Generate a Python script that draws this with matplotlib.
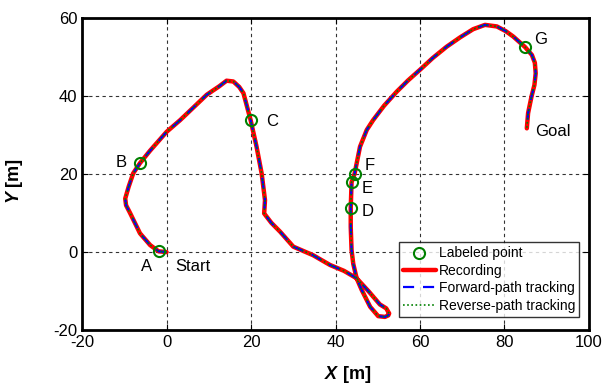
import numpy as np
import matplotlib.pyplot as plt

plt.rcParams['font.family'] = ['Liberation Sans', 'DejaVu Sans']
plt.rcParams['axes.unicode_minus'] = False

path_x = [0.0, -1.9, -3.9, -6.3, -8.6, -9.6, -9.8, -9.0, -7.9, -6.3, -3.9, 0.0, 3.2, 6.5, 9.5, 12.5,
          14.2, 15.8, 17.2, 18.2, 19.9, 21.3, 22.5, 23.3, 23.1, 24.8, 26.9, 30.0, 34.7, 38.7, 42.0,
          45.0, 47.8, 50.5, 52.0, 52.7, 52.5, 51.7, 50.1, 48.2, 46.2, 45.0, 44.2, 43.8, 43.6, 43.6,
          43.8, 44.5, 45.8, 47.4, 48.9, 51.5, 54.5, 57.2, 60.0, 63.0, 66.3, 69.5, 72.6, 75.4, 78.2,
          80.3, 82.1, 84.9, 86.5, 87.2, 87.4, 87.1, 86.4, 85.6, 85.3]
path_y = [0.0, 0.2, 1.8, 4.8, 9.9, 12.0, 13.7, 16.7, 20.2, 22.8, 26.0, 30.8, 33.8, 37.2, 40.3, 42.5,
          43.9, 43.7, 42.3, 40.7, 33.8, 27.0, 20.2, 13.3, 9.9, 7.5, 5.2, 1.4, -0.8, -3.3, -4.8,
          -6.7, -10.0, -13.4, -14.4, -15.7, -16.2, -16.6, -16.4, -14.0, -9.7, -6.7, -3.0, 0.5, 6.5,
          11.2, 17.9, 20.0, 27.0, 31.3, 33.8, 37.5, 41.1, 44.0, 46.7, 49.7, 52.6, 55.0, 57.1, 58.2,
          57.8, 56.6, 55.2, 52.5, 50.5, 48.5, 45.8, 42.8, 39.8, 35.6, 31.7]

# labeled points
pt_names = ['A', 'B', 'C', 'D', 'E', 'F', 'G']
pt_x = [-1.9, -6.3, 19.9, 43.6, 43.8, 44.5, 84.9]
pt_y = [0.2, 22.8, 33.8, 11.2, 17.9, 20.0, 52.5]
label_pos = {'A': (-4.8, -3.8), 'B': (-10.8, 23.0), 'C': (25.0, 33.5), 'D': (47.6, 10.3),
             'E': (47.4, 16.4), 'F': (48.2, 22.3), 'G': (88.6, 54.4)}

fig = plt.figure(figsize=(6.04, 3.88), dpi=100)
ax = fig.add_axes([0.136, 0.149, 0.839, 0.805])

ax.plot(path_x, path_y, color='red', lw=3.2, label='Recording', zorder=3,
        solid_joinstyle='round', solid_capstyle='round')
ax.plot(path_x, path_y, color='blue', lw=1.6, ls=(0, (5, 4)), label='Forward-path tracking',
        zorder=4, dash_joinstyle='round')
ax.plot(path_x, path_y, color='green', lw=1.2, ls=(0, (1, 1.5)), label='Reverse-path tracking',
        zorder=5, dash_joinstyle='round')
ax.plot(pt_x, pt_y, 'o', mfc='none', mec='green', mew=1.5, ms=8, ls='none',
        label='Labeled point', zorder=6)

for n in pt_names:
    ax.text(*label_pos[n], n, fontsize=12, ha='center', va='center')
ax.text(2.0, -3.8, 'Start', fontsize=12, ha='left', va='center')
ax.text(91.5, 30.8, 'Goal', fontsize=12, ha='center', va='center')

ax.set_xlim(-20, 100)
ax.set_ylim(-20, 60)
ax.set_xticks(np.arange(-20, 101, 20))
ax.set_yticks(np.arange(-20, 61, 20))
ax.grid(True, color='black', ls=(0, (3, 3)), lw=0.8, alpha=0.8)
ax.tick_params(direction='in', top=True, right=True, labelsize=12, length=4, width=0.8)
for s in ax.spines.values():
    s.set_linewidth(2)

# axis titles: italic bold letter + bold unit
fig.text(0.568, 0.012, '[m]', fontsize=13, fontweight='bold', ha='left', va='bottom')
fig.text(0.558, 0.012, 'X', fontsize=13, fontweight='bold', style='italic', ha='right', va='bottom')
fig.text(0.022, 0.52, '[m]', fontsize=13, fontweight='bold', rotation=90, ha='center', va='bottom')
fig.text(0.022, 0.51, 'Y', fontsize=13, fontweight='bold', style='italic', rotation=90, ha='center', va='top')

handles, labels = ax.get_legend_handles_labels()
order = [3, 0, 1, 2]
leg = ax.legend([handles[i] for i in order], [labels[i] for i in order], loc='lower right',
                fontsize=10, frameon=True, fancybox=False, edgecolor='black',
                handlelength=2.4, handletextpad=0.2, borderpad=0.3, labelspacing=0.25,
                bbox_to_anchor=(0.995, 0.02))
leg.get_frame().set_linewidth(1.0)

fig.savefig('out.png', dpi=100)
